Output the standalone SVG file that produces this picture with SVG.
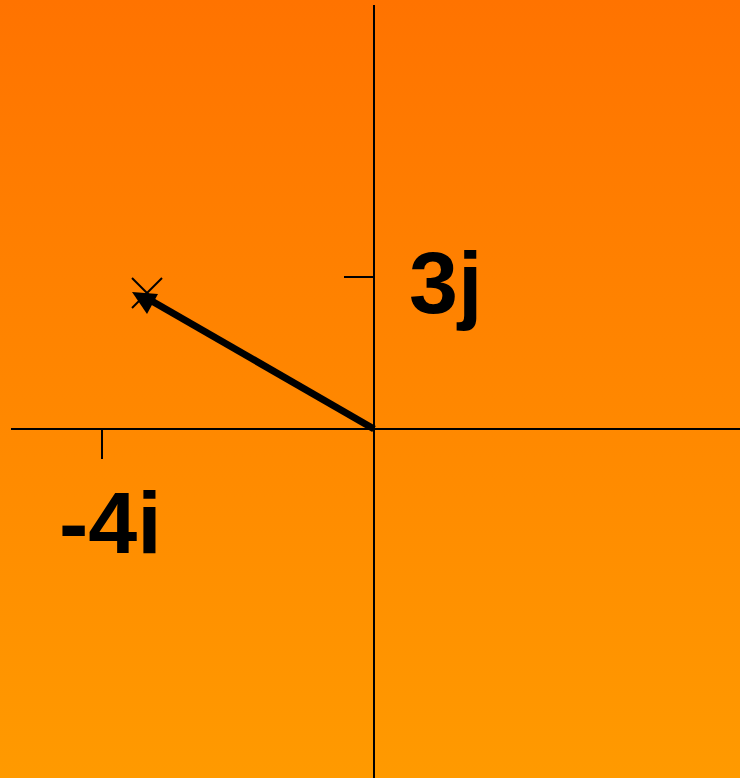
<svg xmlns="http://www.w3.org/2000/svg" width="740" height="778" viewBox="0 0 740 778">
<defs>
<linearGradient id="bg" x1="0" y1="0" x2="0" y2="1">
<stop offset="0" stop-color="#FF7300"/>
<stop offset="1" stop-color="#FF9A00"/>
</linearGradient>
<style>
.ax{stroke:#000;stroke-width:2;fill:none}
.lbl{font-family:"Liberation Sans",Arial,sans-serif;font-weight:bold;font-size:88px;fill:#000}
</style>
</defs>
<rect width="740" height="778" fill="url(#bg)"/>
<g id="axes">
<line class="ax" x1="11" y1="429" x2="740" y2="429"/>
<line class="ax" x1="374" y1="5" x2="374" y2="778"/>
<line class="ax" x1="344" y1="277" x2="374" y2="277"/>
<line class="ax" x1="102" y1="429" x2="102" y2="459"/>
</g>
<g id="marker-x">
<line class="ax" x1="132" y1="278" x2="162" y2="308"/>
<line class="ax" x1="162" y1="278" x2="132" y2="308"/>
</g>
<g id="connectors">
<line x1="374" y1="429" x2="150" y2="300" stroke="#000" stroke-width="7"/>
<polygon points="132,292 158,294 147,314" fill="#000"/>
</g>
<g id="label-3j"><text class="lbl" x="409" y="313">3j</text></g>
<g id="label-4i"><text class="lbl" x="59" y="553">-4i</text></g>
</svg>
